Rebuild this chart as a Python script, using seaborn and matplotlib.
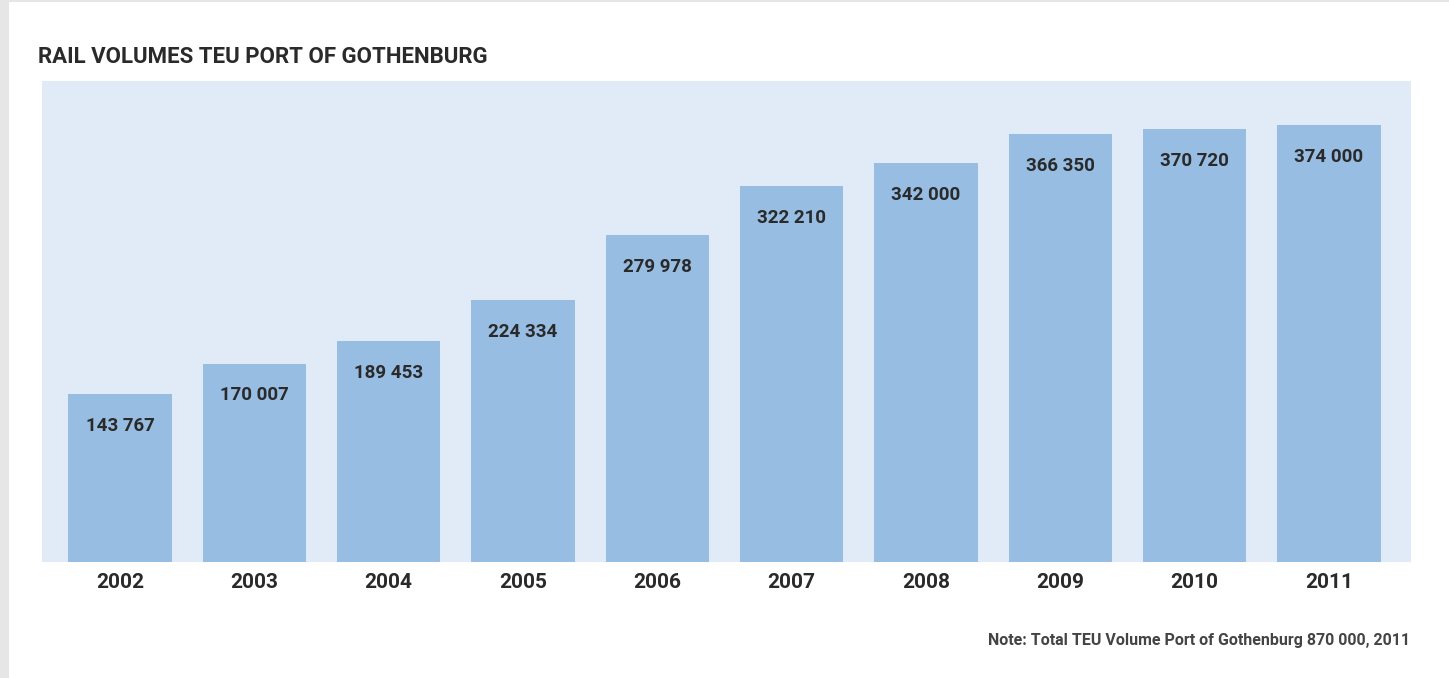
import matplotlib
matplotlib.use("Agg")
import matplotlib.pyplot as plt
import seaborn as sns
import pandas as pd
from matplotlib.patches import Rectangle

years = ["2002", "2003", "2004", "2005", "2006", "2007", "2008", "2009", "2010", "2011"]
volumes = [143767, 170007, 189453, 224334, 279978, 322210, 342000, 366350, 370720, 374000]
labels = ["143 767", "170 007", "189 453", "224 334", "279 978",
          "322 210", "342 000", "366 350", "370 720", "374 000"]

title = "RAIL VOLUMES TEU PORT OF GOTHENBURG"
note = "Note: Total TEU Volume Port of Gothenburg 870 000, 2011"

sns.set_theme(style="white")
plt.rcParams['font.family'] = ['Roboto', 'DejaVu Sans']

W, H = 1449, 678
fig = plt.figure(figsize=(W / 100, H / 100), dpi=100)
fig.patch.set_facecolor("white")

# light grey frame strips (left and top)
fig.patches.append(Rectangle((0, 0), 9 / W, 1, transform=fig.transFigure,
                             facecolor="#e6e6e6", edgecolor="none", zorder=0))
fig.patches.append(Rectangle((0, 1 - 2 / H), 1, 2 / H, transform=fig.transFigure,
                             facecolor="#e6e6e6", edgecolor="none", zorder=0))

ax = fig.add_axes([42 / W, (H - 562) / H, (1411 - 42) / W, (562 - 81) / H])
ax.set_facecolor("#e1ebf7")

df = pd.DataFrame({"year": years, "teu": volumes})
sns.barplot(data=df, x="year", y="teu", color="#97bde3", saturation=1,
            width=0.77, ax=ax, edgecolor="none")

ax.set_xlim(-0.58, 9.61)
ax.set_ylim(0, 412000)
for s in ax.spines.values():
    s.set_visible(False)
ax.set_yticks([])
ax.set_xlabel("")
ax.set_ylabel("")
ax.tick_params(axis="x", length=0, pad=8)
for t in ax.get_xticklabels():
    t.set_fontsize(15)
    t.set_fontweight("bold")
    t.set_color("#2a2a2a")

for i, (v, lab) in enumerate(zip(volumes, labels)):
    ax.annotate(lab, xy=(i, v), xytext=(0, -23), textcoords="offset points",
                ha="center", va="center", fontsize=13.5, fontweight="bold",
                color="#2a2a2a")

fig.text(38 / W, 1 - 57 / H, title, ha="left", va="center", fontsize=16,
         fontweight="bold", color="#2a2a2a")
fig.text(1410 / W, 1 - 641 / H, note, ha="right", va="center", fontsize=11.5,
         fontweight="bold", color="#444444")

fig.savefig("out.png", dpi=100, facecolor="white")
